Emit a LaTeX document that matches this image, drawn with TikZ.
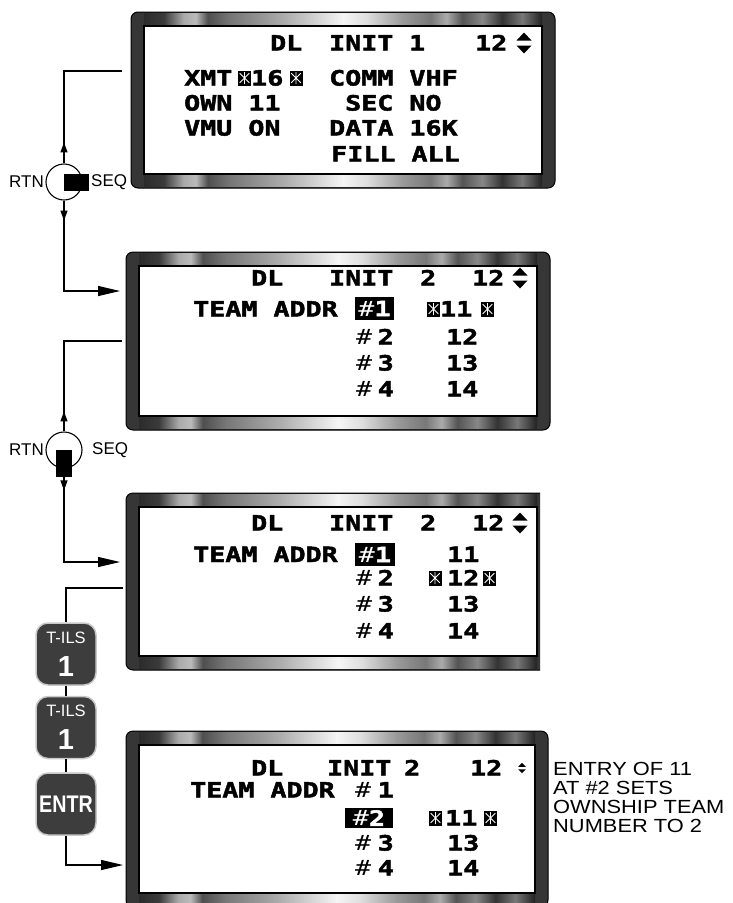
\documentclass[tikz,border=0pt]{standalone}
\usepackage{fontspec}
\setmainfont{Liberation Sans}
\newfontfamily\lcdfont[FakeStretch=1.27,BoldFeatures={FakeBold=2.2}]{DejaVu Sans Mono}
\newfontfamily\notefont[FakeStretch=1.15]{Liberation Sans}
\newfontfamily\narrowfont[FakeStretch=0.82]{Liberation Sans}
\usetikzlibrary{arrows.meta,positioning}

\definecolor{rimgray}{HTML}{363636}
\definecolor{keygray}{HTML}{3D3D3D}
\definecolor{keyedge}{HTML}{C8C8C8}

% metallic band along the top and bottom of each display
\pgfdeclarehorizontalshading{chrome}{100bp}{%
  color(0bp)=(black!83); color(25bp)=(black!83);
  color(27.5bp)=(black!77); color(30bp)=(black!33); color(31.5bp)=(black!27);
  color(33bp)=(black!69); color(36bp)=(black!53); color(42.5bp)=(black!33);
  color(50bp)=(black!4); color(53bp)=(black!13); color(57.5bp)=(black!40);
  color(61bp)=(black!53); color(63bp)=(black!33); color(65bp)=(black!67);
  color(67.5bp)=(black!47); color(70bp)=(black!80); color(72.5bp)=(black!53);
  color(75bp)=(black!87); color(100bp)=(black!87)}

% bezel of one display: left, top, right, bottom
\newcommand*{\lcdframe}[4]{%
  \fill[rimgray,draw=black,line width=1pt,rounded corners=7pt] (#1,#2) rectangle (#3,#4);
  \shade[shading=chrome] (#1+13,#2+1.5) rectangle (#3-13,#2+14);
  \shade[shading=chrome] (#1+13,#4-14) rectangle (#3-13,#4-1.5);
  \filldraw[fill=white,draw=black,line width=1.2pt] (#1+13,#2+14) rectangle (#3-13,#4-14);
}

\begin{document}
\begin{tikzpicture}
[
	x=1pt,
	y=-1pt,
	lcd/.style={font=\lcdfont\bfseries\fontsize{21}{21}\selectfont,inner sep=0pt,anchor=base west},
	lcdthin/.style={font=\lcdfont\fontsize{21}{21}\selectfont,inner sep=0pt,anchor=base west},
	hilite/.style={fill=black,text=white,inner sep=0pt,font=\lcdfont\bfseries\fontsize{21}{21}\selectfont},
	knob/.style={circle,draw,line width=1.1pt,fill=white,minimum size=36pt,inner sep=0pt},
	lever/.style={fill=black,inner sep=0pt},
	swlabel/.style={font=\fontsize{17}{17}\selectfont,inner sep=0pt},
	key/.style={draw=keyedge,line width=1.5pt,fill=keygray,rounded corners=12pt,minimum width=60pt,
		minimum height=62pt,inner sep=0pt,text=white,align=center,font=\fontsize{16.5}{33}\selectfont},
	wire/.style={line width=1.2pt},
	bigtip/.style={-{Triangle[length=22pt,width=10pt]}},
	smalltip/.style={-{Triangle[length=10pt,width=7pt]}},
	starbox/.pic={
		\fill[black] (-6.5,-7.5) rectangle (6.5,7.5);
		\draw[white,line width=0.8pt] (0,-6) -- (0,6) (-4.8,-4.8) -- (4.8,4.8) (-4.8,4.8) -- (4.8,-4.8);
	},
	updown/.pic={
		\fill (-7.5,-2.5) -- (7.5,-2.5) -- (0,-10.5) -- cycle;
		\fill (-7.5,2.5) -- (7.5,2.5) -- (0,10.5) -- cycle;
	}
]

	\useasboundingbox (0,0) rectangle (732,903);
	\clip (0,0) rectangle (732,903);
	\fill[white] (0,0) rectangle (732,903);

	% page 1
	\lcdframe{131}{12}{555}{188}
	\node[lcd] (dlA) at (270,50.5) {DL};
	\node[lcd] (initA) at (329,50.5) {INIT};
	\node[lcd] (pgA) at (409,50.5) {1};
	\node[lcd] (totA) at (475,50.5) {12};
	\pic at (524,43) {updown};
	\node[lcd] (xmtA) at (184,85.5) {XMT};
	\pic at (244.5,78) {starbox};
	\node[lcd] (chanA) at (251,85.5) {16};
	\pic at (296,78) {starbox};
	\node[lcd] (ownA) at (184,110.5) {OWN 11};
	\node[lcd] (vmuA) at (184,135.5) {VMU ON};
	\node[lcd] (commA) at (329,85.5) {COMM VHF};
	\node[lcd] (secA) at (345,110.5) {SEC NO};
	\node[lcd] (dataA) at (329,135.5) {DATA 16K};
	\node[lcd] (fillA) at (331,161.5) {FILL ALL};

	% page 2, #1 selected
	\lcdframe{126}{252}{550}{430}
	\node[lcd] (dlB) at (251,285.5) {DL};
	\node[lcd] (initB) at (329,285.5) {INIT};
	\node[lcd] (pgB) at (420,285.5) {2};
	\node[lcd] (totB) at (472,285.5) {12};
	\pic at (520,278) {updown};
	\node[lcd] (teamB) at (193,316.5) {TEAM ADDR};
	\node[hilite,minimum width=39pt,minimum height=23pt] (selB) at (374.5,308.5) {{\mdseries\#}1};
	\pic at (433.5,309) {starbox};
	\node[lcd] (ownB) at (440,316.5) {11};
	\pic at (487.5,309) {starbox};
	\node[lcdthin] (hB2) at (356,344.5) {\#};
	\node[lcd,anchor=base east] (nB2) at (394,344.5) {2};
	\node[lcd] (aB2) at (446,344.5) {12};
	\node[lcdthin] (hB3) at (356,370.5) {\#};
	\node[lcd,anchor=base east] (nB3) at (394,370.5) {3};
	\node[lcd] (aB3) at (446,370.5) {13};
	\node[lcdthin] (hB4) at (356,396.5) {\#};
	\node[lcd,anchor=base east] (nB4) at (394,396.5) {4};
	\node[lcd] (aB4) at (446,396.5) {14};

	% page 2, cursor on 12
	\begin{scope}
		\clip (0,480) rectangle (540,680);
		\lcdframe{126}{493}{550}{670}
	\end{scope}
	\node[lcd] (dlC) at (251,530.5) {DL};
	\node[lcd] (initC) at (329,530.5) {INIT};
	\node[lcd] (pgC) at (420,530.5) {2};
	\node[lcd] (totC) at (472,530.5) {12};
	\pic at (520,523) {updown};
	\node[lcd] (teamC) at (193,562) {TEAM ADDR};
	\node[hilite,minimum width=40pt,minimum height=23pt] (selC) at (375,554.5) {{\mdseries\#}1};
	\node[lcd] (aC1) at (447,562) {11};
	\node[lcdthin] (hC2) at (356,585.5) {\#};
	\node[lcd,anchor=base east] (nC2) at (394,585.5) {2};
	\pic at (435,578) {starbox};
	\node[lcd] (aC2) at (447,585.5) {12};
	\pic at (489.5,578) {starbox};
	\node[lcdthin] (hC3) at (356,611.5) {\#};
	\node[lcd,anchor=base east] (nC3) at (394,611.5) {3};
	\node[lcd] (aC3) at (447,611.5) {13};
	\node[lcdthin] (hC4) at (356,638.5) {\#};
	\node[lcd,anchor=base east] (nC4) at (394,638.5) {4};
	\node[lcd] (aC4) at (447,638.5) {14};

	% page 2 after entry
	\lcdframe{126}{731}{548}{907}
	\node[lcd] (dlD) at (251,775.5) {DL};
	\node[lcd] (initD) at (327,775.5) {INIT};
	\node[lcd] (pgD) at (404,775.5) {2};
	\node[lcd] (totD) at (470,775.5) {12};
	\pic[scale=0.5] at (522,768) {updown};
	\node[lcd] (teamD) at (190,797.5) {TEAM ADDR};
	\node[lcdthin] (hD1) at (355,797.5) {\#};
	\node[lcd,anchor=base east] (nD1) at (394,797.5) {1};
	\node[hilite,minimum width=48pt,minimum height=20pt] (selD) at (369,818) {{\mdseries\#}2};
	\pic at (435.5,818) {starbox};
	\node[lcd] (aD2) at (445,825.5) {11};
	\pic at (490.5,818) {starbox};
	\node[lcdthin] (hD3) at (355,850.5) {\#};
	\node[lcd,anchor=base east] (nD3) at (394,850.5) {3};
	\node[lcd] (aD3) at (447,850.5) {13};
	\node[lcdthin] (hD4) at (355,875.5) {\#};
	\node[lcd,anchor=base east] (nD4) at (394,875.5) {4};
	\node[lcd] (aD4) at (447,875.5) {14};

	% note
	\node[anchor=base west,inner sep=0pt,align=left,font=\notefont\fontsize{19}{18.8}\selectfont]
		(note) at (553,832) {ENTRY OF 11\\AT \#2 SETS\\OWNSHIP TEAM\\NUMBER TO 2};

	% first switch, pushed to SEQ
	\coordinate (outA) at (122,71);
	\node[knob] (knobA) at (64,182) {};
	\node[lever,minimum width=25pt,minimum height=17pt,anchor=west] (leverA) at (knobA.center) {};
	\node[swlabel,anchor=east] (rtnA) at (44,182) {RTN};
	\node[swlabel,anchor=west] (seqA) at (91,182) {SEQ};
	\draw[wire] (outA) -| (knobA.north);
	\draw[wire,smalltip] (knobA.north) -- ++(0,-21);
	\coordinate (inB) at (120,291);
	\draw[wire,smalltip] (knobA.south) -- ++(0,20);
	\draw[wire,bigtip] (knobA.south) |- (inB);

	% second switch, pushed down
	\coordinate (outB) at (122,341);
	\node[knob] (knobB) at (64,450) {};
	\node[lever,minimum width=16pt,minimum height=27pt,anchor=north] (leverB) at (knobB.center) {};
	\node[swlabel,anchor=east] (rtnB) at (44,450) {RTN};
	\node[swlabel,anchor=west] (seqB) at (92,450) {SEQ};
	\draw[wire] (outB) -| (knobB.north);
	\draw[wire,smalltip] (knobB.north) -- ++(0,-20);
	\coordinate (inC) at (120,562);
	\draw[wire,smalltip] (leverB.south) -- ++(0,13);
	\draw[wire,bigtip] (leverB.south) |- (inC);

	% keys
	\coordinate (outC) at (123,588);
	\node[key] (keyA) at (66,654) {T-ILS\\{\bfseries\fontsize{29}{33}\selectfont 1}};
	\node[key] (keyB) at (66,727.5) {T-ILS\\{\bfseries\fontsize{29}{33}\selectfont 1}};
	\node[key,font=\narrowfont\bfseries\fontsize{24}{24}\selectfont] (keyC) at (66,804) {ENTR};
	\coordinate (inD) at (123,865);
	\draw[wire] (outC) -| (keyA.north);
	\draw[wire] (keyA.south) -- (keyB.north);
	\draw[wire] (keyB.south) -- (keyC.north);
	\draw[wire,bigtip] (keyC.south) |- (inD);

\end{tikzpicture}
\end{document}
